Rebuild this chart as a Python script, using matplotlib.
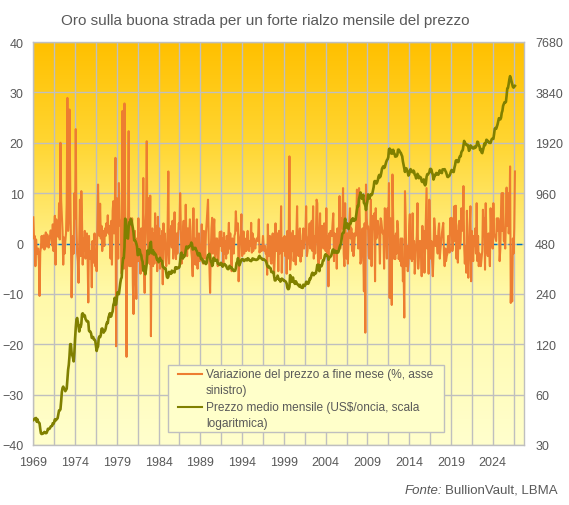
import numpy as np
import matplotlib
matplotlib.use("Agg")
import matplotlib.pyplot as plt
from matplotlib.colors import LinearSegmentedColormap
from matplotlib.ticker import FixedLocator, NullFormatter
from matplotlib.legend_handler import HandlerLine2D
from matplotlib.patches import Rectangle

plt.rcParams['font.family'] = ['Liberation Sans', 'DejaVu Sans']

# ---------------- data ----------------
start_year = 1969
tick_years = [1969, 1974, 1979, 1984, 1989, 1994, 1999, 2004, 2009, 2014, 2019, 2024]

# monthly end-of-month price change (%), Jan 1969 onwards
change_by_year = {
    1969: [5.2, 1.0, 1.5, -4.5, 0.8, -1.5, -2.0, -1.0, -3.5, -10.4, -1.8, -0.5],
    1970: [1.5, -0.8, 0.4, 1.6, -1.2, 0.5, 2.2, -0.6, 1.8, 1.0, -0.8, 1.4],
    1971: [1.2, 2.6, 0.6, -0.4, 3.8, -1.5, 2.5, 5.5, -4.2, 4.8, 1.5, 2.0],
    1972: [1.3, 8.0, 0.8, 20.0, 8.5, 5.6, 2.5, -4.2, 1.2, -2.0, 0.5, 2.0],
    1973: [8.0, 28.9, 2.5, 5.0, 26.6, 12.0, 1.5, -10.7, -3.0, 1.5, -2.0, 10.0],
    1974: [5.0, 22.7, 3.6, -2.0, -3.5, -7.8, 0.5, 8.7, -2.5, 10.4, 4.5, -4.2],
    1975: [1.0, -1.5, 2.5, -3.0, -1.0, 2.0, -2.5, -11.7, 1.5, -3.0, -1.5, -2.0],
    1976: [-8.7, 0.5, -3.8, -1.0, 2.0, -4.5, -1.5, -5.5, 3.0, 11.7, 4.0, 1.5],
    1977: [7.9, 1.0, 3.5, -1.5, 0.5, 2.5, -0.5, 3.0, 1.5, 4.0, 2.5, 5.6],
    1978: [2.0, 3.5, 0.5, -3.0, 4.5, -4.2, 6.5, 8.4, 2.0, 5.0, 17.0, -20.4],
    1979: [9.0, 6.0, -3.0, 12.0, 5.0, 3.5, 4.5, -6.0, 26.3, 4.0, -5.0, 27.8],
    1980: [8.0, -4.0, -22.5, 4.0, 2.0, 22.3, -4.5, 5.0, -4.5, 1.0, 5.0, -8.0],
    1981: [-14.0, -3.0, 2.5, -5.0, -11.0, 1.0, -3.5, 5.0, -3.5, 2.0, -6.0, 3.0],
    1982: [-5.0, -2.5, 13.0, -4.0, -9.8, 3.0, 6.0, 20.3, 2.0, -2.5, 9.0, -4.0],
    1983: [9.5, -18.4, 1.5, 3.0, -4.5, 2.0, -4.0, 6.0, -2.5, 3.5, -5.5, 5.3],
    1984: [-2.0, 3.0, -5.0, 1.5, -4.0, 2.5, -8.1, 4.0, -1.0, 2.0, -3.0, -4.5],
    1985: [-2.0, 3.5, 14.3, -4.0, 2.0, 1.5, 3.5, -0.8, 4.5, -3.0, 1.5, 6.2],
    1986: [-1.0, -3.1, 2.0, -2.0, 1.5, 4.0, 3.0, 10.0, 3.4, -4.0, -2.5, 2.0],
    1987: [4.5, -2.0, 1.5, 7.7, 1.0, -2.5, 3.0, -1.0, 2.0, 4.8, 2.5, -1.5],
    1988: [-3.0, -6.5, 7.0, -4.0, 1.0, -4.2, -1.5, 4.8, -5.0, -1.0, 2.0, -3.5],
    1989: [-2.5, -3.0, 3.8, -3.5, -4.0, 2.5, 1.0, -3.0, 2.0, 4.0, 6.5, 8.7],
    1990: [1.0, -4.5, -9.8, -1.5, 3.0, 5.1, -2.0, 2.5, 4.8, -3.0, -1.5, 1.0],
    1991: [1.0, -4.5, -3.3, 0.5, 2.3, -0.5, 2.4, -1.5, 1.0, -3.9, 2.1, -2.0],
    1992: [0.5, -3.0, 1.5, -2.0, 1.0, 4.1, -1.0, 2.0, -2.5, -5.5, 1.0, -0.5],
    1993: [-2.0, 1.5, 2.0, 6.4, 3.1, 2.5, 4.0, -7.5, -3.0, 1.0, 2.0, 5.8],
    1994: [-2.5, -1.8, 2.4, -2.0, 1.0, 0.5, -1.5, 1.0, 2.5, -1.0, -1.5, 0.5],
    1995: [-0.5, 4.1, -1.8, 2.0, -1.5, 1.0, -0.5, -1.0, 0.5, 1.0, 0.5, 1.5],
    1996: [4.8, -1.8, -1.0, -0.5, -1.5, -0.8, 1.5, -0.5, -1.5, -0.5, -2.0, -1.5],
    1997: [-6.2, 3.8, -2.5, -1.0, 1.5, -3.5, -4.0, 1.0, 2.0, -3.0, -6.0, -2.5],
    1998: [4.0, -1.5, 1.5, 2.0, -5.5, 2.5, -2.0, -1.5, 7.4, -5.8, 1.0, -1.5],
    1999: [-0.5, 1.5, -2.5, 1.0, -6.0, 2.5, -3.0, 1.5, 17.3, -5.2, -3.0, 2.0],
    2000: [-1.5, 2.5, -3.5, -1.5, 1.5, -4.2, 2.0, 7.4, -1.5, -2.5, 1.0, 3.0],
    2001: [-3.6, 0.5, -2.5, 1.5, 3.0, -1.0, 1.5, 2.0, 7.4, -2.5, -1.5, 1.0],
    2002: [1.5, 4.0, -1.0, 2.5, 4.5, -1.5, 7.4, -3.0, 1.5, -2.0, 1.0, 8.7],
    2003: [8.0, -2.5, -4.5, 1.0, 6.0, -3.0, 2.5, 3.5, 2.0, -1.0, 4.0, 3.5],
    2004: [-1.5, 7.0, -2.0, 1.5, -8.5, 2.0, -1.0, 2.5, 2.4, 1.5, 4.0, 6.0],
    2005: [-3.5, 2.0, -1.5, 1.0, -5.0, 3.0, -1.5, 2.0, 9.4, -1.0, 4.5, 5.0],
    2006: [3.0, 11.0, -2.0, -4.5, 8.0, -1.8, -3.0, 2.0, -4.0, 1.5, 4.0, 7.0],
    2007: [1.0, 3.0, -1.5, 2.0, -2.5, -1.0, 2.0, 1.5, 4.0, 10.7, 2.5, -1.0],
    2008: [11.0, 5.0, -4.0, -3.5, 1.0, 3.0, -1.0, -9.5, 4.0, -17.7, 11.7, 5.0],
    2009: [3.0, 3.4, -2.5, -3.0, 2.0, 8.7, -4.5, 2.0, 5.5, 3.0, 6.0, -7.5],
    2010: [7.0, 1.0, 3.0, 4.5, 3.0, 1.5, -4.0, 5.0, 4.5, 3.0, 2.0, 2.5],
    2011: [-5.0, 7.0, 6.0, 1.0, -3.0, 7.0, 4.0, 12.0, -10.8, 5.0, -2.0, -12.2],
    2012: [13.7, 5.4, -3.0, 1.5, -3.1, 2.0, -2.0, 4.5, 3.0, -3.1, -1.0, -3.5],
    2013: [1.0, -4.5, 1.0, -7.5, -5.0, -14.7, 10.4, 5.0, -4.5, -0.5, -5.5, -4.0],
    2014: [3.5, 5.8, -3.0, 1.0, -3.5, 6.0, -3.0, 0.5, -6.0, -3.5, -0.5, 1.5],
    2015: [8.0, -5.0, -2.5, 0.5, 0.5, -1.5, -6.5, 3.5, -1.5, 2.5, -5.8, -1.0],
    2016: [5.0, 11.0, -1.0, 4.5, -6.0, 8.7, 2.5, -3.0, 0.5, -3.5, -6.5, -2.0],
    2017: [5.0, 3.0, -0.5, 1.5, 0.0, -2.0, 2.5, 4.0, -3.0, -1.0, 0.5, 2.0],
    2018: [3.0, 4.1, -2.0, -4.5, -1.0, -3.5, -2.5, -2.0, 1.5, 0.5, -1.8, 5.0],
    2019: [3.0, 5.1, -1.5, -0.5, 2.0, 7.4, 0.5, 7.5, -3.0, 2.5, -3.8, 3.5],
    2020: [4.5, -1.0, 0.5, 7.0, 2.5, 3.0, 11.4, -0.5, -4.0, -0.5, -5.8, 6.5],
    2021: [-2.5, -6.8, -1.5, 3.5, 7.4, -7.5, 2.5, -0.5, -3.5, 1.5, -0.5, 3.0],
    2022: [-2.0, 8.0, -3.5, 1.5, -4.5, -2.0, -2.5, -4.5, -3.0, -1.5, 6.7, 3.0],
    2023: [5.0, -5.2, 8.0, 0.5, -1.5, -2.5, 2.0, -1.5, -4.5, 7.0, 2.5, 1.5],
    2024: [-1.0, 8.0, 2.0, 1.5, 1.0, 0.5, 5.0, 2.5, 5.0, 4.0, -3.5, -1.0],
    2025: [6.5, 10.0, 2.5, 10.0, 0.5, 0.5, -1.0, 4.5, 11.1, 3.5, 10.0, 2.0],
    2026: [4.0, 15.3, -11.8, -5.0, -11.5, 1.0, -2.0, 3.0, 14.3],
}

# monthly average price (US$/oz)
price_by_year = {
    1969: [42.3, 42.6, 43.2, 43.3, 43.5, 41.3, 42.7, 41.1, 40.9, 40.4, 37.4, 35.2],
    1970: [34.9, 35.0, 35.1, 35.6, 35.9, 35.4, 35.3, 35.4, 36.2, 37.5, 37.4, 37.4],
    1971: [37.9, 38.7, 38.9, 39.0, 40.5, 40.1, 41.0, 42.7, 42.0, 42.5, 42.9, 43.5],
    1972: [45.8, 48.3, 48.3, 49.0, 54.6, 62.1, 65.7, 67.0, 65.5, 64.9, 62.9, 63.9],
    1973: [65.1, 74.2, 84.4, 90.5, 102.0, 120.1, 120.2, 106.8, 103.0, 100.1, 94.8, 106.7],
    1974: [129.2, 150.2, 168.4, 172.2, 163.3, 154.1, 143.0, 154.6, 151.8, 158.8, 181.7, 183.8],
    1975: [176.3, 179.6, 178.2, 170.0, 167.0, 164.2, 165.1, 163.2, 144.6, 142.8, 142.8, 139.3],
    1976: [131.2, 131.0, 132.6, 128.2, 128.0, 125.8, 117.8, 109.4, 114.2, 116.2, 130.4, 133.8],
    1977: [132.3, 136.3, 148.2, 149.2, 146.7, 140.8, 143.3, 144.7, 149.0, 158.0, 162.1, 160.5],
    1978: [173.2, 178.2, 183.7, 175.1, 176.3, 183.7, 188.7, 206.0, 212.4, 227.3, 206.1, 207.8],
    1979: [227.3, 245.7, 242.1, 239.2, 257.6, 279.1, 294.7, 300.8, 355.1, 391.7, 392.5, 455.1],
    1980: [675.3, 665.3, 553.6, 517.4, 513.8, 600.7, 644.3, 626.5, 673.6, 661.2, 623.5, 594.9],
    1981: [557.5, 500.5, 499.8, 494.8, 479.9, 460.8, 409.3, 410.1, 443.5, 437.7, 413.4, 410.1],
    1982: [384.5, 374.2, 330.0, 350.5, 333.5, 314.1, 340.4, 364.9, 436.2, 422.4, 415.2, 444.0],
    1983: [480.0, 491.0, 419.7, 432.8, 437.6, 412.8, 423.0, 416.3, 411.7, 393.7, 381.8, 387.9],
    1984: [370.9, 386.4, 394.0, 381.4, 377.7, 377.9, 347.7, 348.1, 341.1, 340.2, 341.2, 320.2],
    1985: [303.1, 299.1, 304.0, 324.8, 316.6, 316.4, 316.6, 330.6, 323.4, 325.6, 325.1, 322.7],
    1986: [345.4, 338.9, 345.7, 340.4, 342.5, 342.8, 348.7, 376.6, 418.6, 423.4, 397.7, 390.5],
    1987: [408.3, 401.1, 408.3, 438.3, 460.2, 449.6, 451.0, 461.2, 460.2, 465.4, 467.9, 486.3],
    1988: [477.3, 442.3, 443.6, 451.6, 451.2, 451.5, 437.6, 431.9, 413.4, 406.8, 420.2, 418.6],
    1989: [404.0, 387.8, 390.2, 384.3, 371.0, 367.6, 375.0, 365.4, 361.8, 366.9, 394.3, 409.4],
    1990: [410.1, 416.8, 393.1, 374.3, 369.1, 352.3, 362.5, 394.7, 389.0, 380.7, 381.9, 378.2],
    1991: [383.6, 363.8, 363.3, 358.4, 357.4, 366.7, 367.7, 356.5, 348.7, 358.7, 359.6, 361.7],
    1992: [354.5, 353.9, 344.3, 338.6, 337.2, 340.8, 353.1, 342.9, 345.4, 344.4, 335.1, 334.7],
    1993: [329.0, 329.3, 330.1, 342.2, 367.2, 371.9, 392.0, 378.8, 355.3, 364.2, 373.8, 383.3],
    1994: [387.0, 382.2, 383.9, 377.3, 381.4, 385.6, 385.5, 380.4, 391.6, 389.8, 384.4, 379.3],
    1995: [378.6, 376.5, 382.1, 391.0, 385.2, 387.6, 386.2, 383.7, 383.1, 383.1, 386.2, 387.4],
    1996: [400.0, 405.0, 396.2, 392.9, 392.0, 385.3, 383.5, 387.5, 383.1, 381.1, 377.9, 369.0],
    1997: [355.0, 346.6, 351.8, 344.5, 343.8, 340.8, 324.1, 324.0, 322.8, 324.9, 306.0, 288.7],
    1998: [289.1, 297.5, 295.9, 308.4, 299.1, 292.3, 292.9, 284.1, 289.0, 295.9, 294.1, 291.6],
    1999: [287.1, 287.3, 286.0, 282.6, 276.4, 261.3, 256.1, 256.7, 264.7, 310.7, 293.2, 283.1],
    2000: [284.6, 300.9, 286.4, 280.0, 275.3, 285.7, 281.6, 274.5, 273.7, 270.0, 266.0, 272.0],
    2001: [265.5, 261.9, 263.0, 260.5, 272.4, 270.2, 267.5, 272.4, 283.4, 283.1, 276.2, 275.9],
    2002: [281.7, 295.5, 294.0, 302.7, 314.5, 321.2, 313.3, 310.3, 319.2, 316.6, 319.2, 333.4],
    2003: [356.9, 359.0, 340.6, 328.2, 355.7, 356.4, 351.0, 359.8, 378.9, 378.9, 389.9, 407.6],
    2004: [414.0, 405.3, 406.7, 403.0, 383.8, 392.4, 398.1, 400.5, 405.3, 420.5, 439.4, 442.1],
    2005: [424.0, 423.4, 434.2, 429.2, 421.9, 430.7, 424.5, 437.9, 456.0, 469.9, 476.7, 510.1],
    2006: [549.9, 555.0, 557.1, 610.6, 675.4, 596.2, 633.7, 632.6, 598.2, 585.8, 627.8, 629.8],
    2007: [631.2, 664.8, 654.9, 679.4, 667.3, 655.5, 665.3, 665.4, 712.7, 754.6, 806.3, 803.2],
    2008: [889.6, 922.3, 968.4, 909.7, 888.7, 889.5, 939.8, 839.0, 829.9, 806.6, 760.9, 816.1],
    2009: [858.7, 943.2, 924.3, 890.2, 928.6, 945.7, 934.2, 949.4, 996.6, 1043.2, 1127.0, 1134.7],
    2010: [1118.0, 1095.4, 1113.3, 1148.7, 1205.4, 1232.9, 1193.0, 1215.8, 1271.0, 1342.0, 1369.9, 1390.6],
    2011: [1356.4, 1372.7, 1424.0, 1473.8, 1510.4, 1528.7, 1572.8, 1755.8, 1771.9, 1665.2, 1739.0, 1652.3],
    2012: [1656.1, 1742.6, 1673.8, 1650.1, 1585.5, 1596.7, 1593.9, 1626.0, 1744.5, 1746.6, 1721.6, 1684.8],
    2013: [1671.9, 1627.6, 1592.9, 1487.1, 1414.0, 1343.4, 1285.5, 1351.7, 1348.6, 1316.6, 1275.8, 1221.5],
    2014: [1244.3, 1301.0, 1336.1, 1299.0, 1287.5, 1279.1, 1310.6, 1295.1, 1236.6, 1222.5, 1175.3, 1200.6],
    2015: [1251.8, 1227.1, 1178.6, 1198.9, 1198.6, 1181.5, 1128.3, 1117.9, 1124.8, 1159.3, 1086.4, 1068.3],
    2016: [1097.9, 1199.5, 1245.1, 1242.3, 1260.9, 1276.4, 1336.7, 1340.2, 1326.6, 1266.6, 1238.4, 1157.4],
    2017: [1192.1, 1234.2, 1231.1, 1266.9, 1246.0, 1260.3, 1236.8, 1283.0, 1314.1, 1279.5, 1281.9, 1264.5],
    2018: [1331.3, 1330.7, 1324.7, 1334.8, 1303.5, 1281.6, 1237.7, 1201.7, 1198.4, 1215.4, 1220.7, 1250.4],
    2019: [1291.8, 1320.1, 1300.9, 1285.9, 1283.7, 1359.0, 1412.9, 1500.4, 1510.6, 1494.8, 1470.0, 1479.1],
    2020: [1560.7, 1597.1, 1591.9, 1683.2, 1715.9, 1732.2, 1846.5, 1968.6, 1921.9, 1900.3, 1866.3, 1858.4],
    2021: [1867.2, 1808.2, 1718.2, 1760.0, 1850.3, 1834.6, 1807.8, 1785.3, 1775.1, 1777.4, 1820.8, 1790.2],
    2022: [1816.0, 1856.3, 1947.8, 1937.4, 1848.5, 1836.6, 1732.7, 1764.6, 1680.6, 1664.5, 1725.1, 1797.6],
    2023: [1897.8, 1854.6, 1912.7, 1999.8, 1991.8, 1942.9, 1951.0, 1918.7, 1915.7, 1916.5, 1985.8, 2026.3],
    2024: [2033.9, 2024.0, 2158.9, 2331.3, 2351.6, 2326.1, 2398.9, 2470.6, 2570.4, 2691.4, 2650.2, 2648.0],
    2025: [2709.7, 2894.8, 2984.2, 3193.0, 3276.4, 3352.0, 3340.2, 3365.0, 3665.0, 4058.0, 4087.0, 4310.0],
    2026: [4600.0, 4800.0, 4650.0, 4470.0, 4300.0, 4150.0, 4100.0, 4150.0, 4200.0],
}

right_ticks = [30, 60, 120, 240, 480, 960, 1920, 3840, 7680]
left_ticks = [-40, -30, -20, -10, 0, 10, 20, 30, 40]

title = "Oro sulla buona strada per un forte rialzo mensile del prezzo"
label_change = "Variazione del prezzo a fine mese (%, asse\nsinistro)"
label_price = "Prezzo medio mensile (US$/oncia, scala\nlogaritmica)"
source_it = "Fonte:"
source_rest = "BullionVault, LBMA"

change = [v for y in sorted(change_by_year) for v in change_by_year[y]]
price = [v for y in sorted(price_by_year) for v in price_by_year[y]]
x_change = np.arange(len(change))
x_price = np.arange(len(price))

# ---------------- figure ----------------
W, H = 569, 506
fig = plt.figure(figsize=(W / 100, H / 100), dpi=100)
fig.patch.set_facecolor('white')
L, R, T, B = 33.3, 524.0, 43.0, 446.0
ax = fig.add_axes([L / W, 1 - B / H, (R - L) / W, (B - T) / H])


def ax_xy(px, py):
    return ((px - L) / (R - L), (B - py) / (B - T))


TXT = '#595959'
GRID = '#BFBFBF'

# gradient background
cmap = LinearSegmentedColormap.from_list('bg', [
    (0.0, (1.0, 192 / 255, 0.0)),
    (0.25, (1.0, 214 / 255, 50 / 255)),
    (0.50, (1.0, 240 / 255, 135 / 255)),
    (0.62, (1.0, 249 / 255, 168 / 255)),
    (1.0, (1.0, 1.0, 205 / 255)),
])
grad = np.linspace(0, 1, 256).reshape(-1, 1)
ax.imshow(grad, cmap=cmap, aspect='auto', extent=[0, 1, 0, 1],
          transform=ax.transAxes, zorder=0, interpolation='bilinear')

xmax = 705
ax.set_xlim(0, xmax)
ax.set_ylim(-40, 40)
ax.set_yticks(left_ticks)
tick_pos = [(y - start_year) * 12 for y in tick_years]
ax.set_xticks(tick_pos)
ax.set_xticklabels([str(y) for y in tick_years])
ax.xaxis.set_minor_locator(FixedLocator([p + 30 for p in tick_pos]))
ax.xaxis.set_minor_formatter(NullFormatter())
ax.grid(True, which='both', axis='x', color=GRID, lw=1.0, zorder=0.5)
ax.grid(True, which='major', axis='y', color=GRID, lw=1.0, zorder=0.5)
ax.set_axisbelow(True)
ax.tick_params(axis='both', which='both', length=0, labelsize=9, colors=TXT)
ax.tick_params(axis='y', pad=7)
ax.tick_params(axis='x', pad=8)
for s in ax.spines.values():
    s.set_color(GRID)
    s.set_linewidth(1.0)

ax.axhline(0, color='#0070C0', lw=1.0, ls=(0, (4, 2)), zorder=2)
ln1, = ax.plot(x_change, change, color='#ED7D31', lw=1.5, zorder=3,
               solid_joinstyle='round', label=label_change)

ax2 = ax.twinx()
ax2.set_yscale('log', base=2)
ax2.set_ylim(30, 7680)
ax2.set_yticks(right_ticks)
ax2.set_yticklabels([str(v) for v in right_ticks])
ax2.yaxis.set_minor_formatter(NullFormatter())
ax2.tick_params(axis='y', which='both', length=0, labelsize=9, colors=TXT, pad=8)
for s in ax2.spines.values():
    s.set_visible(False)
ln2, = ax2.plot(x_price, price, color='#808000', lw=1.9, zorder=4,
                solid_joinstyle='round', label=label_price)
ax2.set_xlim(0, xmax)


class FirstLineHandler(HandlerLine2D):
    def create_artists(self, legend, orig_handle, xdescent, ydescent,
                       width, height, fontsize, trans):
        arts = super().create_artists(legend, orig_handle, xdescent, ydescent,
                                      width, height, fontsize, trans)
        for a in arts:
            a.set_ydata(np.asarray(a.get_ydata()) + 0.68 * fontsize)
        return arts


# legend frame drawn separately to match the box exactly
x0, y0 = ax_xy(168.3, 432.7)
x1, y1 = ax_xy(444.0, 366.0)
ax2.add_patch(Rectangle((x0, y0), x1 - x0, y1 - y0, transform=ax2.transAxes,
                        facecolor='#FFFFCA', edgecolor=GRID, lw=1.0, zorder=9))

lfs = 8.6
leg = ax2.legend(handles=[ln1, ln2], loc='upper left',
                 bbox_to_anchor=ax_xy(178.0, 369.5),
                 fontsize=lfs, frameon=False, handlelength=2.05,
                 handletextpad=0.3, labelspacing=0.45, borderpad=0.0,
                 borderaxespad=0.0,
                 handler_map={ln1: FirstLineHandler(), ln2: FirstLineHandler()})
for t in leg.get_texts():
    t.set_color(TXT)
    t.set_linespacing(1.38)
for h in leg.legend_handles:
    h.set_linewidth(1.5)
leg.set_zorder(10)

fig.text(265 / W, 1 - 21 / H, title, ha='center', va='center',
         fontsize=11, color=TXT)

ys = 1 - 491 / H
t_rest = fig.text(558 / W, ys, source_rest, ha='right', va='center',
                  fontsize=9.5, color=TXT)
fig.canvas.draw()
bb = t_rest.get_window_extent()
fig.text((bb.x0 - 3) / W, ys, source_it, ha='right', va='center',
         fontsize=9.5, color=TXT, style='italic')

fig.savefig('out.png', dpi=100)
